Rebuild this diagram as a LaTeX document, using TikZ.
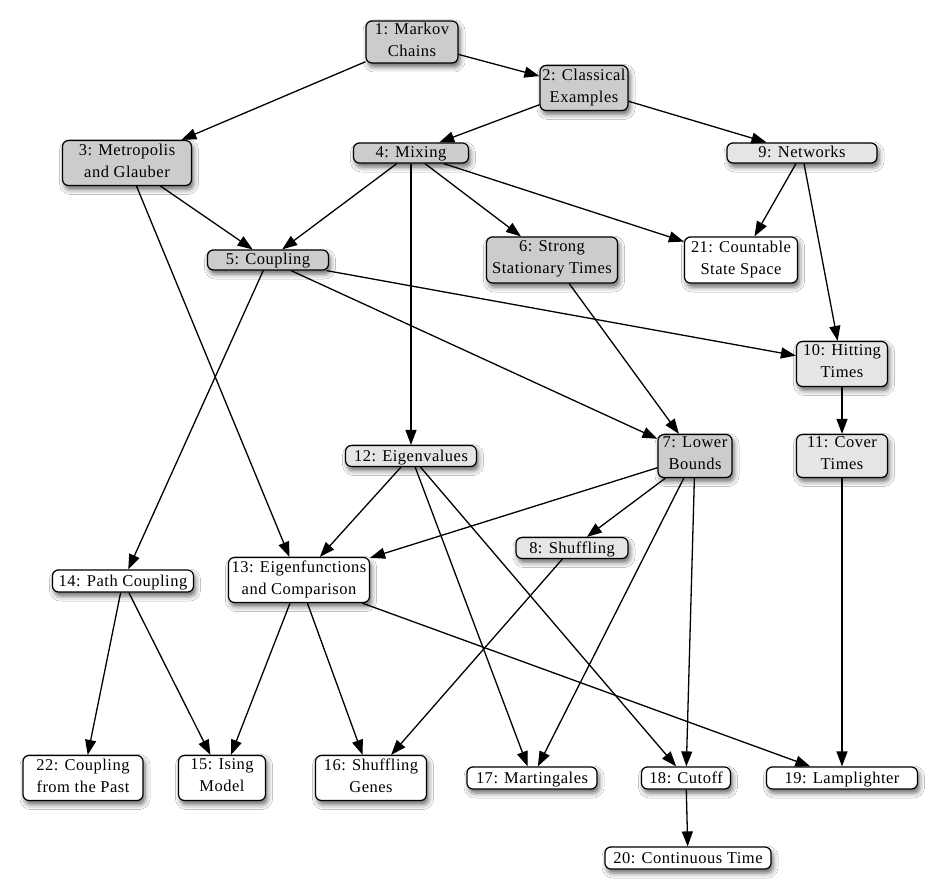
\documentclass[tikz,border=0pt]{standalone}
\usepackage{fontspec}
\setmainfont[LetterSpace=3]{Liberation Serif}
\usetikzlibrary{arrows.meta,shadows.blur}
\definecolor{dk}{gray}{0.80}
\definecolor{lt}{gray}{0.90}
\newcommand{\boxstrut}{\rule[-5pt]{0pt}{20pt}}
\tikzset{
  box/.style={draw=black, line width=1.2pt, rounded corners=6pt, inner sep=0pt, align=center,
    font=\fontsize{16.5}{22}\selectfont,
    execute at begin node=\boxstrut, execute at end node=\boxstrut,
    blur shadow={shadow xshift=2pt, shadow yshift=-4pt, shadow blur radius=5pt, shadow opacity=60}},
  dkbox/.style={box, fill=dk},
  ltbox/.style={box, fill=lt},
  wbox/.style={box, fill=white},
  edge/.style={line width=1.3pt, -{Triangle[length=15pt,width=11pt]}}
}
\begin{document}
\begin{tikzpicture}[x=1pt,y=-1pt]
\useasboundingbox (0,0) rectangle (939,893);
\fill[white] (0,0) rectangle (939,893);
\node[dkbox, minimum width=92pt, minimum height=42pt] (n1) at (412,42) {1: Markov\\Chains};
\node[dkbox, minimum width=88pt, minimum height=45pt] (n2) at (584,88) {2: Classical\\Examples};
\node[dkbox, minimum width=129pt, minimum height=45pt] (n3) at (127,163) {3: Metropolis\\and Glauber};
\node[dkbox, minimum width=115pt, minimum height=20pt] (n4) at (411,153) {4: Mixing};
\node[ltbox, minimum width=150pt, minimum height=20pt] (n9) at (802,153) {9: Networks};
\node[dkbox, minimum width=121pt, minimum height=20pt] (n5) at (268,260) {5: Coupling};
\node[dkbox, minimum width=131pt, minimum height=46pt] (n6) at (552,260) {6: Strong\\Stationary Times};
\node[wbox, minimum width=113pt, minimum height=46pt] (n21) at (741,260) {21: Countable\\State Space};
\node[ltbox, minimum width=91pt, minimum height=45pt] (n10) at (842,364) {10: Hitting\\Times};
\node[ltbox, minimum width=131pt, minimum height=21pt] (n12) at (411,456) {12: Eigenvalues};
\node[dkbox, minimum width=74pt, minimum height=43pt] (n7) at (695,456) {7: Lower\\Bounds};
\node[ltbox, minimum width=91pt, minimum height=43pt] (n11) at (842,456) {11: Cover\\Times};
\node[ltbox, minimum width=112pt, minimum height=21pt] (n8) at (572,548) {8: Shuffling};
\node[wbox, minimum width=141pt, minimum height=22pt] (n14) at (123,581) {14: Path Coupling};
\node[wbox, minimum width=141pt, minimum height=45pt] (n13) at (299,580) {13: Eigenfunctions\\and Comparison};
\node[wbox, minimum width=120pt, minimum height=45pt] (n22) at (83,778) {22: Coupling\\from the Past};
\node[wbox, minimum width=87pt, minimum height=45pt] (n15) at (222,778) {15: Ising\\Model};
\node[wbox, minimum width=111pt, minimum height=45pt] (n16) at (371,778) {16: Shuffling\\Genes};
\node[wbox, minimum width=130pt, minimum height=22pt] (n17) at (532,778) {17: Martingales};
\node[wbox, minimum width=89pt, minimum height=22pt] (n18) at (686,778) {18: Cutoff};
\node[wbox, minimum width=151pt, minimum height=22pt] (n19) at (842,778) {19: Lamplighter};
\node[wbox, minimum width=166pt, minimum height=22pt] (n20) at (688,858) {20: Continuous Time};

\draw[edge] (n1) -- (n2);
\draw[edge] (n1) -- (n3);
\draw[edge] (n2) -- (n4);
\draw[edge] (n2) -- (n9);
\draw[edge] (n3) -- (n5);
\draw[edge] (n3) -- (n13);
\draw[edge] (n4) -- (n5);
\draw[edge] (n4) -- (n6);
\draw[edge] (n4) -- (n21);
\draw[edge] (n4) -- (n12);
\draw[edge] (n9) -- (n21);
\draw[edge] (n9) -- (n10);
\draw[edge] (n5) -- (n14);
\draw[edge] (n5) -- (n10);
\draw[edge] (n5) -- (n7);
\draw[edge] (n6) -- (n7);
\draw[edge] (n10) -- (n11);
\draw[edge] (n12) -- (n13);
\draw[edge] (n12) -- (n17);
\draw[edge] (n12) -- (n18);
\draw[edge] (n7) -- (n13);
\draw[edge] (n7) -- (n8);
\draw[edge] (n7) -- (n17);
\draw[edge] (n7) -- (n18);
\draw[edge] (n11) -- (n19);
\draw[edge] (n14) -- (n22);
\draw[edge] (n14) -- (n15);
\draw[edge] (n13) -- (n15);
\draw[edge] (n13) -- (n16);
\draw[edge] (n13) -- (n19);
\draw[edge] (n8) -- (n16);
\draw[edge] (n18) -- (n20);
\end{tikzpicture}
\end{document}
